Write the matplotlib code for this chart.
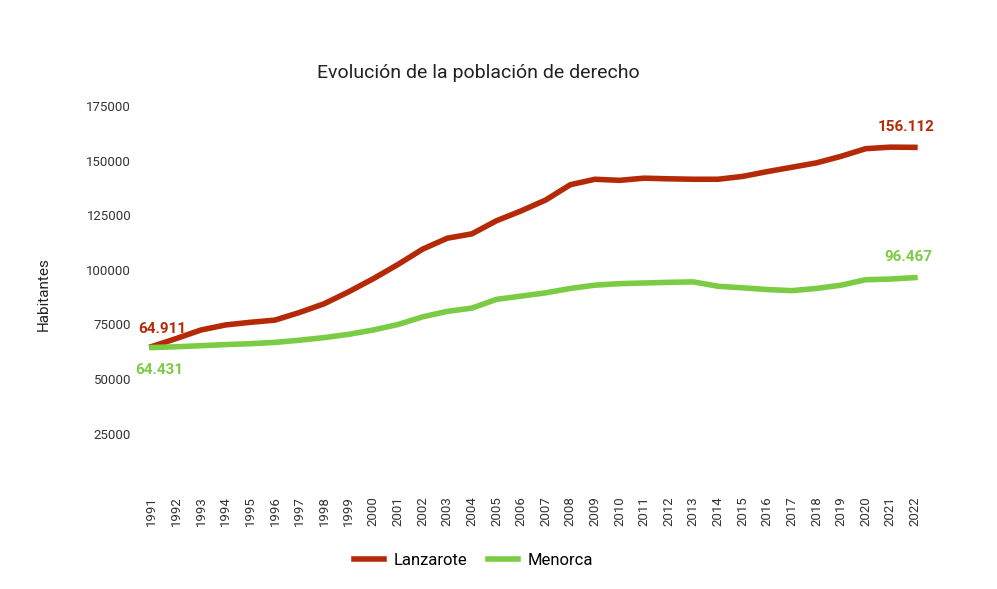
import matplotlib.pyplot as plt

plt.rcParams['font.family'] = ['Roboto', 'DejaVu Sans']

years = list(range(1991, 2023))
lanzarote = [64911, 68600, 72500, 74800, 76000, 77000, 80500, 84500, 90000, 96000,
             102500, 109500, 114500, 116500, 122500, 127000, 132000, 139000, 141500, 141000,
             142000, 141700, 141500, 141500, 142800, 145000, 147000, 149000, 152000, 155500,
             156200, 156112]
menorca = [64431, 64800, 65300, 65800, 66200, 66800, 67800, 69000, 70500, 72500,
           75000, 78500, 81000, 82500, 86500, 88000, 89500, 91500, 93000, 93700,
           94000, 94300, 94500, 92500, 91800, 91000, 90500, 91500, 93000, 95500,
           95800, 96467]
yticks = [25000, 50000, 75000, 100000, 125000, 150000, 175000]

red = '#b52a06'
green = '#7ccb44'

fig = plt.figure(figsize=(9.97, 5.89), dpi=100)
ax = fig.add_axes([0.14, 0.171, 0.79, 0.66])
ax.plot(years, lanzarote, color=red, lw=4, label='Lanzarote', solid_joinstyle='round')
ax.plot(years, menorca, color=green, lw=4, label='Menorca', solid_joinstyle='round')
ax.set_xlim(1990.5, 2022.5)
ax.set_ylim(0, 178000)
ax.set_xticks(years)
ax.set_xticklabels([str(y) for y in years], rotation=90, fontsize=9.5, color='#333333')
ax.set_yticks(yticks)
ax.set_yticklabels([str(v) for v in yticks], fontsize=9.5, color='#333333')
ax.tick_params(length=0, pad=6)
for s in ax.spines.values():
    s.set_visible(False)
ax.set_ylabel('Habitantes', fontsize=11, labelpad=26, color='#222222')
fig.text(0.48, 0.86, 'Evolución de la población de derecho', fontsize=14,
         ha='center', va='bottom', color='#222222')

ax.annotate('64.911', (years[0], lanzarote[0]), xytext=(-10, 10), textcoords='offset points',
            color=red, fontsize=11, fontweight='bold')
ax.annotate('64.431', (years[0], menorca[0]), xytext=(-12, -19), textcoords='offset points',
            color=green, fontsize=11, fontweight='bold')
ax.annotate('156.112', (years[-1], lanzarote[-1]), xytext=(-27, 12), textcoords='offset points',
            color=red, fontsize=11, fontweight='bold')
ax.annotate('96.467', (years[-1], menorca[-1]), xytext=(-22, 12), textcoords='offset points',
            color=green, fontsize=11, fontweight='bold')

fig.legend(loc='lower center', bbox_to_anchor=(0.475, 0.01), ncol=2, frameon=False,
           fontsize=12, handlelength=1.8, columnspacing=1.2, handletextpad=0.6)
fig.savefig('out.png', dpi=100)
